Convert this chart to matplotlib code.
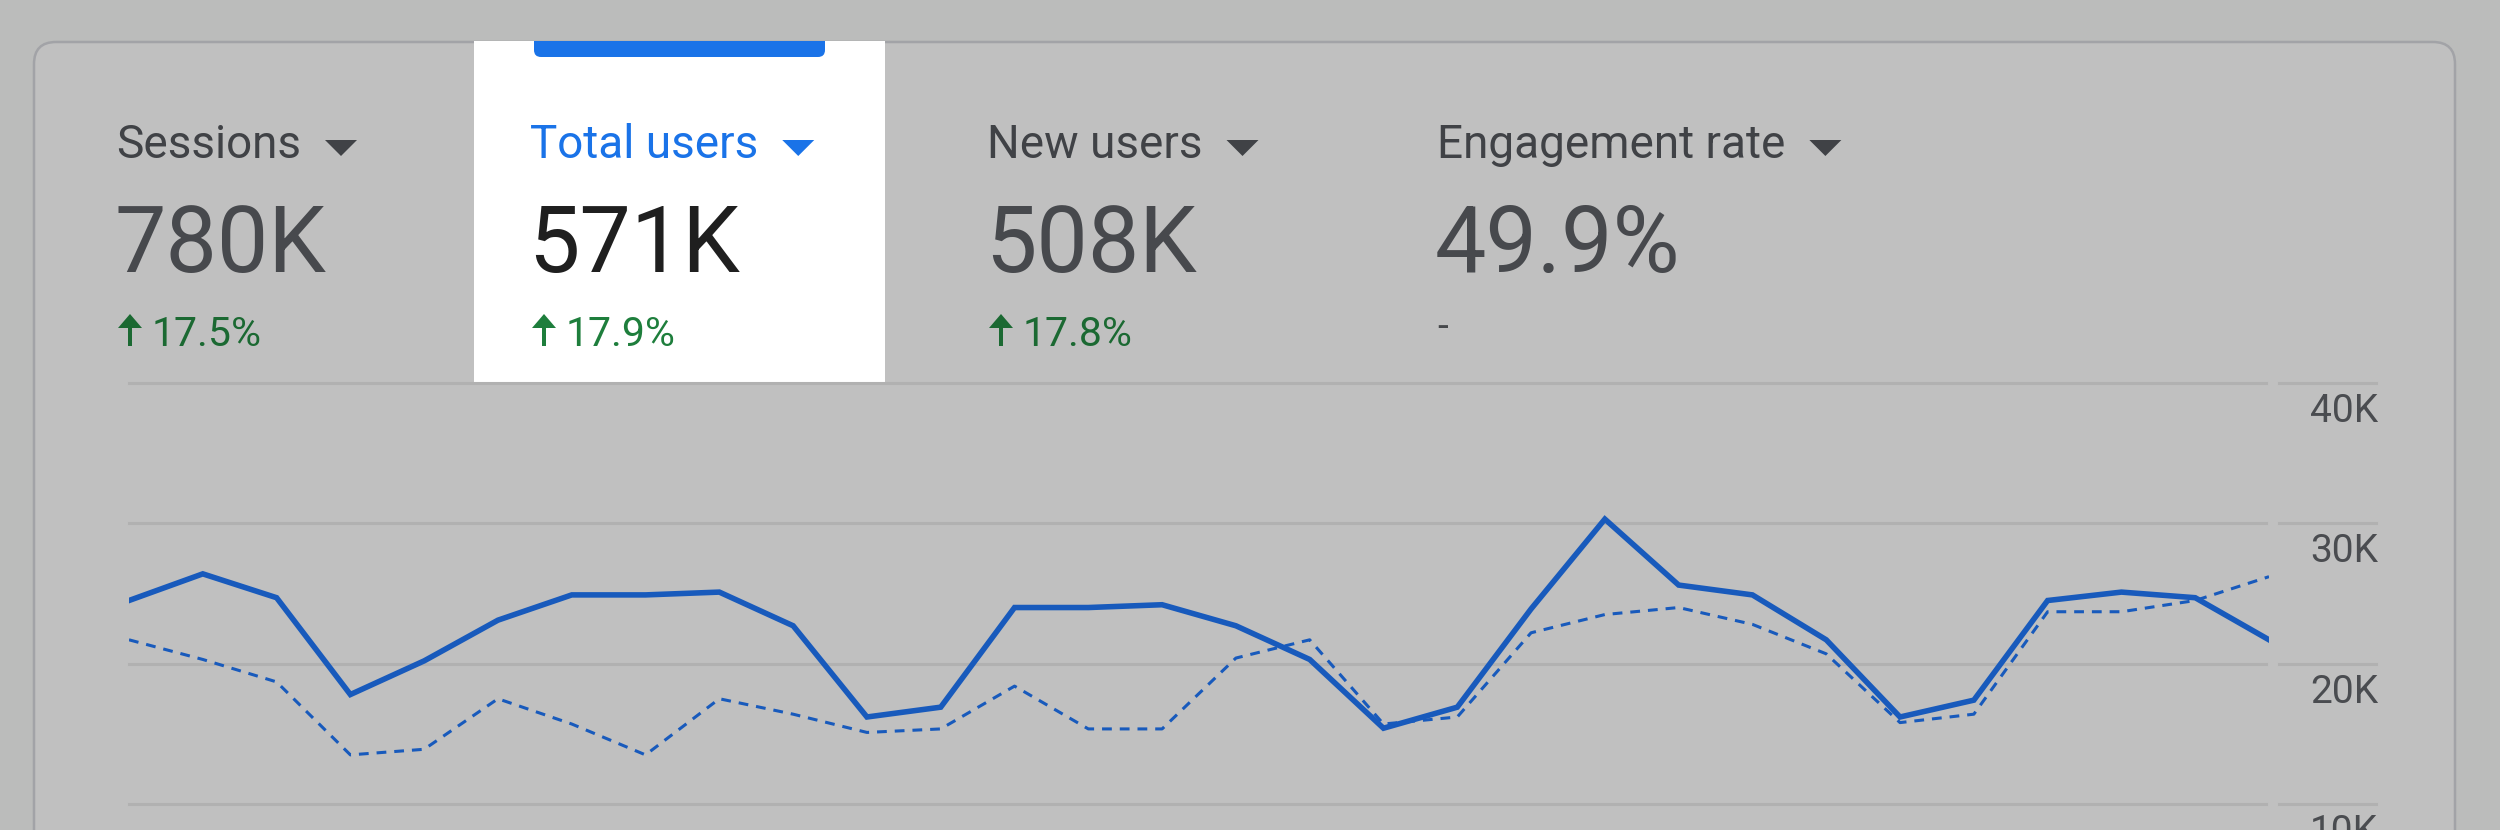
import matplotlib
matplotlib.use("Agg")
import matplotlib.pyplot as plt
from matplotlib.patches import FancyBboxPatch, Rectangle, Polygon

plt.rcParams['font.family'] = ['Roboto', 'DejaVu Sans']

# daily values, thousands
total_users = [24.5, 26.4, 24.7, 17.8, 20.2, 23.1, 24.9, 24.9, 25.1, 22.7,
               16.2, 16.9, 24.0, 24.0, 24.2, 22.7, 20.3, 15.4, 16.9, 23.9,
               30.3, 25.6, 24.9, 21.7, 16.2, 17.4, 24.5, 25.1, 24.7, 21.7]
prev_period = [21.7, 20.3, 18.7, 13.5, 13.9, 17.5, 15.7, 13.5, 17.5, 16.4,
               15.1, 15.35, 18.4, 15.35, 15.35, 20.4, 21.7, 15.7, 16.2, 22.2,
               23.5, 24.0, 22.8, 20.7, 15.8, 16.4, 23.7, 23.7, 24.5, 26.2]

y_ticks = [10, 20, 30, 40]
y_tick_labels = ["10K", "20K", "30K", "40K"]

metrics = ["Sessions", "Total users", "New users", "Engagement rate"]
metric_values = ["780K", "571K", "508K", "49.9%"]
metric_changes = ["17.5%", "17.9%", "17.8%", None]
selected = 1

W, H = 2500, 830
fig = plt.figure(figsize=(W / 100, H / 100), dpi=100)
fig.patch.set_facecolor("#bbbcbb")

# background layer in pixel coords
bg = fig.add_axes([0, 0, 1, 1])
bg.set_xlim(0, W)
bg.set_ylim(H, 0)
bg.axis("off")

card = FancyBboxPatch((34, 42), 2421, 900, boxstyle="round,pad=0,rounding_size=22",
                      facecolor="#c0c0c0", edgecolor="#a2a3a7", linewidth=1.8)
bg.add_patch(card)

# selected metric panel
bg.add_patch(Rectangle((474, 41), 411, 341, facecolor="white", edgecolor="none"))
bg.add_patch(FancyBboxPatch((534, 41), 291, 16, boxstyle="round,pad=0,rounding_size=7",
                            facecolor="#1a73e8", edgecolor="none"))
bg.add_patch(Rectangle((534, 41), 291, 8, facecolor="#1a73e8", edgecolor="none"))

col_x = [116, 530, 987, 1437]
header_texts = []
for i, (name, val, chg) in enumerate(zip(metrics, metric_values, metric_changes)):
    x = col_x[i]
    sel = i == selected
    hcol = "#1a73e8" if sel else "#404246"
    t = bg.text(x, 158, name, fontsize=33, color=hcol, va="baseline", ha="left")
    header_texts.append((t, hcol))
    bg.text(x - 2, 272, val, fontsize=66, color="#1f1f1f" if sel else "#47494d",
            va="baseline", ha="left")
    if chg is None:
        bg.text(x, 327.5, "-", fontsize=28, color="#46484b", va="center", ha="left")
    else:
        gcol = "#1e7e3c" if sel else "#1b6932"
        ax0 = x + 2
        bg.add_patch(Polygon([(ax0, 328), (ax0 + 24, 328), (ax0 + 12, 314)],
                             closed=True, facecolor=gcol, edgecolor="none"))
        bg.add_patch(Rectangle((ax0 + 10, 326), 4, 20, facecolor=gcol, edgecolor="none"))
        bg.text(x + 36, 346, chg, fontsize=29.5, color=gcol, va="baseline", ha="left")

# dropdown triangles after headers
fig.canvas.draw()
r = fig.canvas.get_renderer()
inv = bg.transData.inverted()
for t, hcol in header_texts:
    bb = t.get_window_extent(r)
    xr = inv.transform((bb.x1, bb.y0))[0]
    tx = xr + 24
    bg.add_patch(Polygon([(tx, 140), (tx + 32, 140), (tx + 16, 156)], closed=True,
                         facecolor=hcol, edgecolor="none"))

# chart
top_px, bot_px = 383, 804
per_px = 30 / (bot_px - top_px)
ymin = 40 - (H - top_px) * per_px
ax = fig.add_axes([129 / W, 0, (2269 - 129) / W, (H - top_px) / H])
ax.set_facecolor("none")
ax.set_xlim(0, len(total_users) - 1)
ax.set_ylim(ymin, 40)
for s in ax.spines.values():
    s.set_visible(False)
ax.set_xticks([])
ax.set_yticks([])

x_right = (2376 - 129) / (2269 - 129)
x_seg0 = (2279 - 129) / (2269 - 129)
for v, lab in zip(y_ticks, y_tick_labels):
    ax.axhline(v, xmin=0, xmax=0.9986, color="#b1b1b1", lw=2.2, zorder=1, clip_on=False)
    ax.plot([x_seg0, x_right], [v, v], color="#b1b1b1", lw=2.2,
            transform=ax.get_yaxis_transform(), clip_on=False)
    ax.annotate(lab, xy=(x_right + 0.001, v), xycoords=ax.get_yaxis_transform(),
                xytext=(0, -39), textcoords="offset pixels", ha="right", va="baseline",
                fontsize=28, color="#4a4c50", annotation_clip=False)

xs = list(range(len(total_users)))
ax.plot(xs, prev_period, color="#185abc", lw=2.2, dashes=(3.2, 2.6), zorder=3,
        solid_joinstyle="miter")
ax.plot(xs, total_users, color="#185abc", lw=4.0, zorder=4, solid_joinstyle="miter")

fig.savefig("out.png", dpi=100, facecolor=fig.get_facecolor())
